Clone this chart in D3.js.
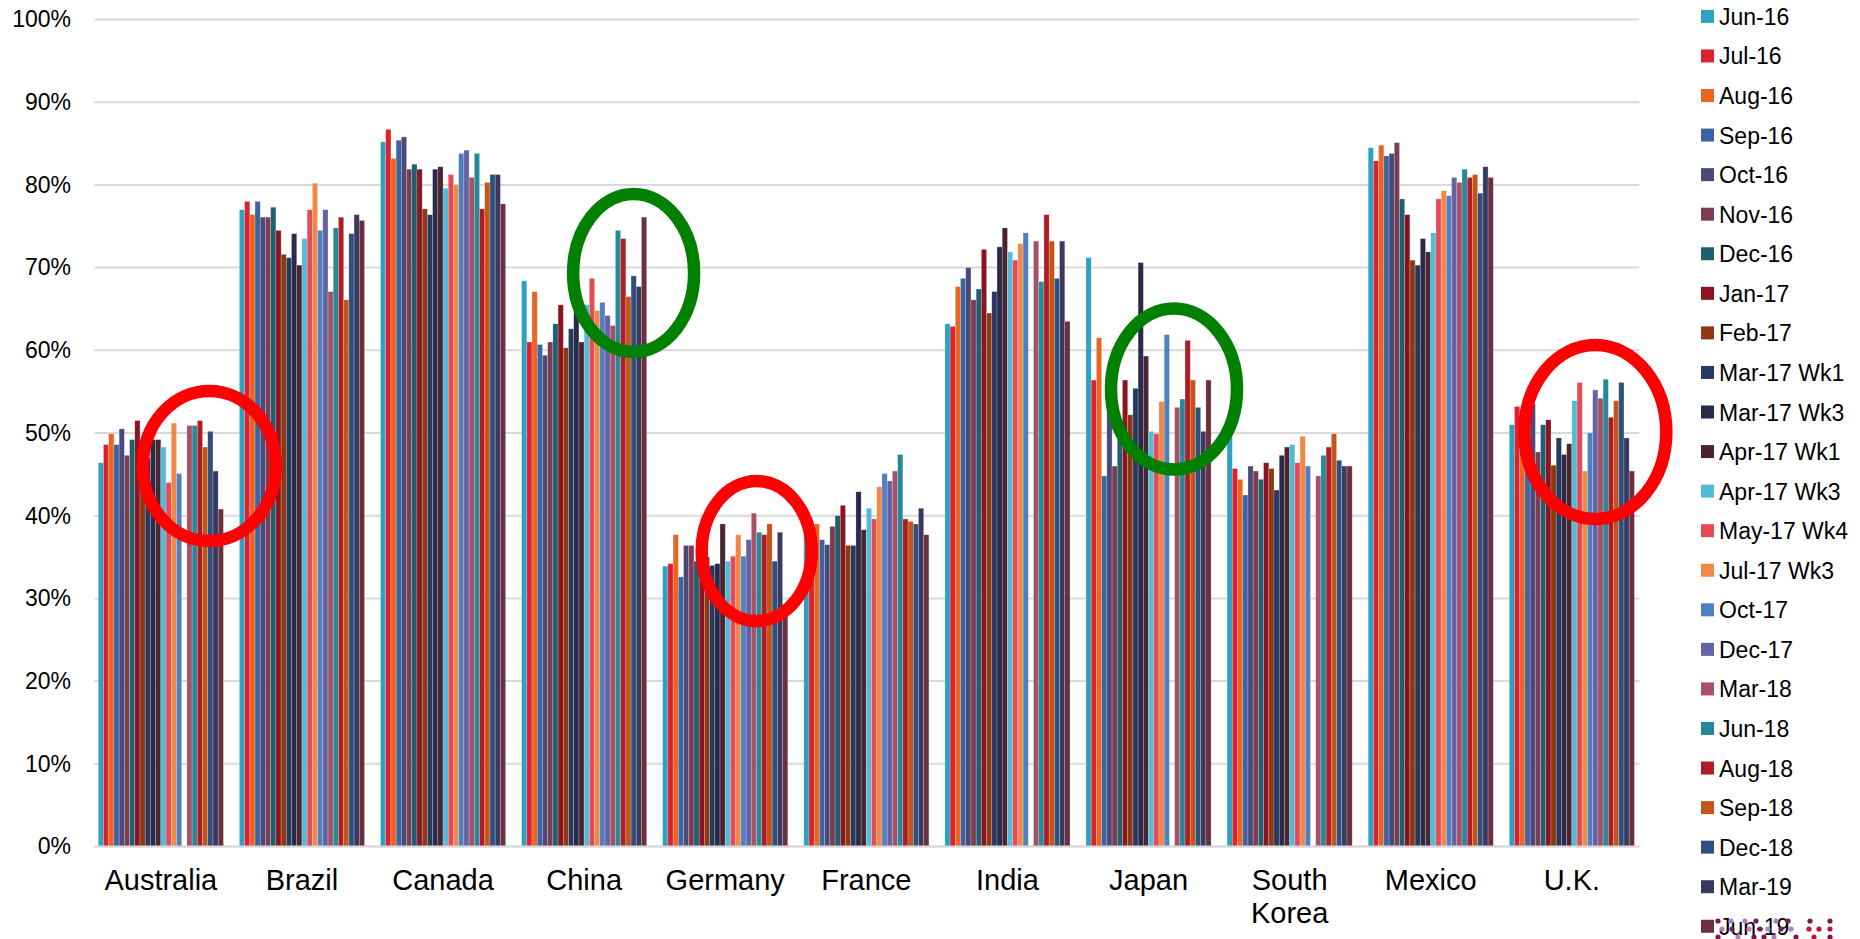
<!DOCTYPE html>
<html>
<head>
<meta charset="utf-8">
<script src="https://cdn.jsdelivr.net/npm/d3@7"></script>
<style>
  html, body { margin: 0; padding: 0; background: #fff; }
  svg { display: block; font-family: "Liberation Sans", Arial, sans-serif; }
</style>
</head>
<body>
<svg id="chart" width="1860" height="939"></svg>
<script>
// Survey waves (legend order)
const waves = ["Jun-16","Jul-16","Aug-16","Sep-16","Oct-16","Nov-16","Dec-16","Jan-17","Feb-17",
  "Mar-17 Wk1","Mar-17 Wk3","Apr-17 Wk1","Apr-17 Wk3","May-17 Wk4","Jul-17 Wk3","Oct-17",
  "Dec-17","Mar-18","Jun-18","Aug-18","Sep-18","Dec-18","Mar-19","Jun-19"];

const waveColors = ["#2ba3c0","#df202e","#ec6420","#3b64a0","#4a4a7a","#7e3c50","#1e5f70","#8a1520",
  "#8e3812","#253a5e","#2a2a4a","#4a2530","#50bcd8","#e84a55","#f0884a","#5080c0","#6464a4",
  "#a85066","#268898","#b01c25","#c45518","#2e5080","#3a3a60","#6a303e"];

const countries = ["Australia","Brazil","Canada","China","Germany","France","India","Japan","South Korea","Mexico","U.K."];

// Share (%) per country, one value per wave; null = not surveyed
const australia  = [46.4,48.6,49.9,48.6,50.5,47.3,49.2,51.5,48.0,47.0,49.2,49.2,48.3,44.0,51.2,45.1,null,50.9,50.9,51.5,48.3,50.2,45.4,40.8];
const brazil     = [77.0,78.0,76.4,78.0,76.1,76.1,77.3,74.5,71.6,71.2,74.1,70.3,73.5,77.0,80.2,74.5,77.0,67.1,74.8,76.1,66.1,74.1,76.4,75.7];
const canada     = [85.2,86.7,83.2,85.4,85.8,81.9,82.5,81.9,77.1,76.4,81.9,82.2,79.6,81.25,80.0,83.8,84.2,80.9,83.8,77.1,80.3,81.25,81.25,77.7];
const china      = [68.4,61.0,67.1,60.7,59.4,61.0,63.2,65.5,60.3,62.6,66.0,61.0,65.5,68.7,64.8,65.8,64.2,63.0,74.5,73.5,66.5,69.0,67.7,76.1];
const germany    = [33.9,34.2,37.7,32.6,36.4,36.4,34.5,36.0,35.0,34.0,34.2,39.0,34.5,35.1,37.7,35.1,37.1,40.3,38.0,37.7,39.0,34.5,38.0,29.3];
const france     = [37.7,36.4,39.0,37.1,36.5,38.7,40.0,41.25,36.4,36.4,42.9,38.3,40.9,39.6,43.5,45.1,44.2,45.4,47.4,39.6,39.3,39.0,40.9,37.7];
const india      = [63.2,62.9,67.7,68.7,70.0,66.1,67.4,72.2,64.5,67.1,72.5,74.8,71.9,70.9,72.9,74.2,null,73.2,68.3,76.4,73.2,68.7,73.2,63.5];
const japan      = [71.2,56.4,61.5,44.8,54.5,46.0,50.0,56.4,52.2,55.4,70.6,59.3,50.2,49.9,53.8,61.9,null,53.1,54.1,61.2,56.4,53.1,50.2,56.4];
const southKorea = [50.0,45.7,44.4,42.5,46.0,45.4,44.4,46.4,45.7,43.1,47.3,48.3,48.6,46.4,49.6,46.0,null,44.8,47.3,48.3,49.9,46.7,46.0,46.0];
const mexico     = [84.5,82.9,84.8,83.5,83.8,85.1,78.3,76.4,70.9,70.3,73.5,71.9,74.2,78.3,79.3,78.7,80.9,80.3,81.9,80.9,81.25,79.0,82.2,80.9];
const uk         = [51.0,53.2,52.0,50.0,53.5,47.7,51.0,51.6,46.1,49.4,47.4,48.7,53.9,56.1,45.4,50.0,55.2,54.2,56.5,51.9,53.9,56.1,49.4,45.4];

const countryValues = [australia, brazil, canada, china, germany, france, india, japan, southKorea, mexico, uk];

const yTicks = [0,10,20,30,40,50,60,70,80,90,100];

// Highlight rings: [country, colour]
const rings = [
  ["Australia", "#ff0000"],
  ["China", "#008000"],
  ["Germany", "#ff0000"],
  ["Japan", "#008000"],
  ["U.K.", "#ff0000"]
];

const svg = d3.select("#chart");

const plot = { left: 90.3, right: 1642.4, top: 19.5, bottom: 846.5 };

const x0 = d3.scaleBand()
  .domain(countries)
  .range([plot.left, plot.right])
  .paddingInner(0.1134)
  .paddingOuter(0.0567);

const x1 = d3.scaleBand()
  .domain(waves)
  .range([0, x0.bandwidth()]);

const y = d3.scaleLinear().domain([0, 100]).range([plot.bottom, plot.top]);

const color = d3.scaleOrdinal().domain(waves).range(waveColors);

// Gridlines
svg.append("g")
  .selectAll("line")
  .data(yTicks)
  .join("line")
  .attr("x1", plot.left + 4)
  .attr("x2", plot.right - 3)
  .attr("y1", d => y(d))
  .attr("y2", d => y(d))
  .attr("stroke", "#d9d9d9")
  .attr("stroke-width", 2);

// Y axis labels
const yAxis = d3.axisLeft(y)
  .tickValues(yTicks)
  .tickFormat(d => d + "%")
  .tickSize(0)
  .tickPadding(0);
const yg = svg.append("g")
  .attr("transform", `translate(${71},0)`)
  .call(yAxis);
yg.select(".domain").remove();
yg.selectAll("text")
  .attr("font-size", 23)
  .attr("font-family", "Liberation Sans, Arial, sans-serif")
  .attr("fill", "#000");

// Bars
const rows = countries.map((c, i) => ({ country: c, values: countryValues[i] }));

const groups = svg.append("g")
  .selectAll("g")
  .data(rows)
  .join("g")
  .attr("transform", d => `translate(${x0(d.country)},0)`);

groups.selectAll("rect")
  .data(d => d.values.map((v, j) => ({ wave: waves[j], value: v })).filter(e => e.value !== null))
  .join("rect")
  .attr("x", d => x1(d.wave))
  .attr("width", x1.bandwidth())
  .attr("y", d => y(d.value))
  .attr("height", d => y(0) - y(d.value))
  .attr("fill", d => color(d.wave))
  .attr("stroke", "rgba(255,255,255,0.35)")
  .attr("stroke-width", 0.6);

// Baseline
svg.append("line")
  .attr("x1", plot.left + 4)
  .attr("x2", plot.right - 3)
  .attr("y1", y(0))
  .attr("y2", y(0))
  .attr("stroke", "#d9d9d9")
  .attr("stroke-width", 2);

// Category labels
const xg = svg.append("g");
xg.selectAll("text")
  .data(countries)
  .join("text")
  .attr("x", d => x0(d) + x0.bandwidth() / 2)
  .attr("y", 890)
  .attr("text-anchor", "middle")
  .attr("font-size", 29)
  .attr("fill", "#000")
  .each(function (d) {
    const parts = d.split(" ");
    const t = d3.select(this);
    parts.forEach((p, i) => {
      t.append("tspan")
        .attr("x", x0(d) + x0.bandwidth() / 2)
        .attr("dy", i === 0 ? 0 : 33)
        .text(p);
    });
  });

// Legend
const legend = svg.append("g").attr("transform", "translate(1701,0)");
const items = legend.selectAll("g")
  .data(waves)
  .join("g")
  .attr("transform", (d, i) => `translate(0,${16.4 + i * 39.56})`);
items.append("rect")
  .attr("x", 0)
  .attr("y", -6.5)
  .attr("width", 13)
  .attr("height", 13)
  .attr("fill", d => color(d));
items.append("text")
  .attr("x", 18)
  .attr("y", 8.5)
  .attr("font-size", 23)
  .attr("fill", "#000")
  .text(d => d);

// Highlight rings around selected countries
const ringShape = {
  "Australia": { dx: 111, cy: 466, rx: 66.5, ry: 75 },
  "China":     { dx: 112, cy: 273, rx: 60.5, ry: 79 },
  "Germany":   { dx: 94,  cy: 551, rx: 55, ry: 70 },
  "Japan":     { dx: 88,  cy: 389, rx: 63, ry: 80.5 },
  "U.K.":      { dx: 86,  cy: 432, rx: 71, ry: 87 }
};
svg.append("g")
  .selectAll("ellipse")
  .data(rings)
  .join("ellipse")
  .attr("cx", d => x0(d[0]) + ringShape[d[0]].dx)
  .attr("cy", d => ringShape[d[0]].cy)
  .attr("rx", d => ringShape[d[0]].rx)
  .attr("ry", d => ringShape[d[0]].ry)
  .attr("fill", "none")
  .attr("stroke", d => d[1])
  .attr("stroke-width", 12.5);

// Dotted logo mark, bottom right
const logoDots = [
  [0, 0, "#7a1a50"], [13, 0, "#b080c0"], [27, 0, "#b080c0"], [38, 0, "#7a1a50"], [58, 0, "#b080c0"],
  [70, 0, "#7a1a50"], [92, 0, "#7a1a50"], [112, 0, "#7a1a50"],
  [4, 1, "#b080c0"], [14, 1, "#7a1a50"], [31, 1, "#b080c0"], [42, 1, "#7a1a50"], [50, 1, "#b080c0"],
  [63, 1, "#7a1a50"], [73, 1, "#b080c0"], [91, 1, "#c01040"], [101, 1, "#c01040"], [112, 1, "#c01040"],
  [0, 2, "#7a1a50"], [20, 2, "#b080c0"], [36, 2, "#7a1a50"], [46, 2, "#7a1a50"], [56, 2, "#b080c0"],
  [78, 2, "#7a1a50"], [96, 2, "#c01040"], [112, 2, "#7a1a50"]
];
svg.append("g")
  .selectAll("circle")
  .data(logoDots)
  .join("circle")
  .attr("cx", d => 1718 + d[0])
  .attr("cy", d => 921 + d[1] * 8)
  .attr("r", 2.6)
  .attr("fill", d => d[2]);
</script>
</body>
</html>
